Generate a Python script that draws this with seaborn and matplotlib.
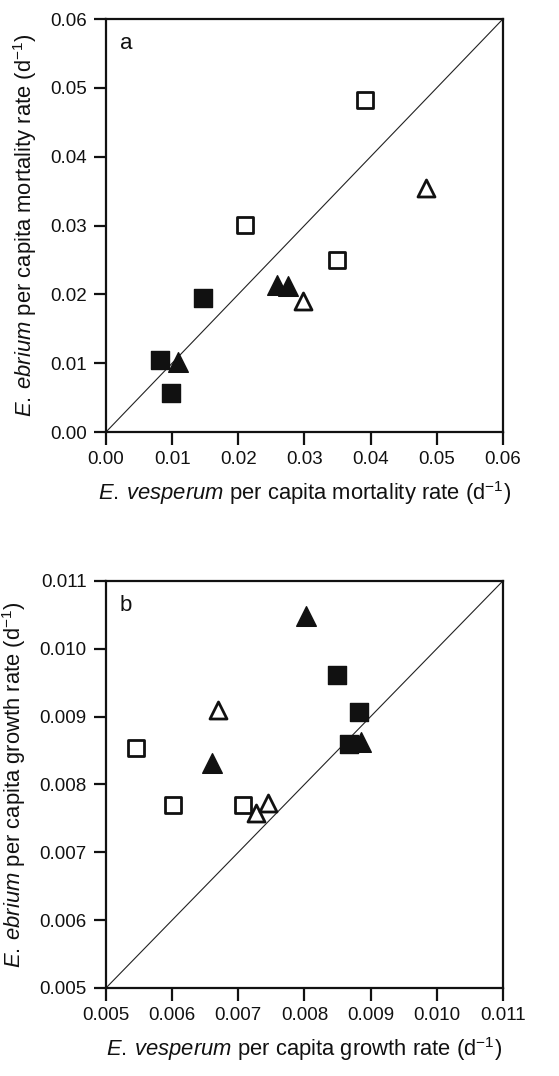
import matplotlib
matplotlib.use('Agg')
import matplotlib.pyplot as plt
import seaborn as sns
import pandas as pd

# panel a: per capita mortality rates
mort_fill_sq_x = [0.0082, 0.0099, 0.0147]
mort_fill_sq_y = [0.0104, 0.0057, 0.0194]
mort_fill_tri_x = [0.0109, 0.0258, 0.0275]
mort_fill_tri_y = [0.0102, 0.0214, 0.0212]
mort_open_sq_x = [0.0210, 0.0391, 0.0349]
mort_open_sq_y = [0.0301, 0.0483, 0.0250]
mort_open_tri_x = [0.0298, 0.0484]
mort_open_tri_y = [0.0190, 0.0355]

# panel b: per capita growth rates
grow_fill_sq_x = [0.00849, 0.00882, 0.00868]
grow_fill_sq_y = [0.00962, 0.00907, 0.00859]
grow_fill_tri_x = [0.00803, 0.00660, 0.00886]
grow_fill_tri_y = [0.01048, 0.00832, 0.00863]
grow_open_sq_x = [0.00545, 0.00602, 0.00707]
grow_open_sq_y = [0.00854, 0.00769, 0.00770]
grow_open_tri_x = [0.00670, 0.00727, 0.00745]
grow_open_tri_y = [0.00910, 0.00758, 0.00772]

mort_ticks = [0.00, 0.01, 0.02, 0.03, 0.04, 0.05, 0.06]
mort_labels = ['0.00', '0.01', '0.02', '0.03', '0.04', '0.05', '0.06']
grow_ticks = [0.005, 0.006, 0.007, 0.008, 0.009, 0.010, 0.011]
grow_labels = ['0.005', '0.006', '0.007', '0.008', '0.009', '0.010', '0.011']

sns.set_style('ticks')
plt.rcParams['font.family'] = ['Liberation Sans', 'DejaVu Sans']
plt.rcParams['mathtext.fontset'] = 'custom'
plt.rcParams['mathtext.rm'] = 'Liberation Sans'
plt.rcParams['mathtext.it'] = 'Liberation Sans:italic'
plt.rcParams['mathtext.default'] = 'regular'


def make_frame(fsx, fsy, ftx, fty, osx, osy, otx, oty):
    rows = []
    for name, xs, ys in [('fsq', fsx, fsy), ('ftri', ftx, fty),
                         ('osq', osx, osy), ('otri', otx, oty)]:
        for x, y in zip(xs, ys):
            rows.append({'x': x, 'y': y, 'grp': name})
    return pd.DataFrame(rows)


styles = {
    'fsq': dict(marker='s', s=150, color='#111111', edgecolor='#111111', linewidth=1.0),
    'ftri': dict(marker='^', s=200, color='#111111', edgecolor='#111111', linewidth=1.0),
    'osq': dict(marker='s', s=120, color='white', edgecolor='#111111', linewidth=2.0),
    'otri': dict(marker='^', s=150, color='white', edgecolor='#111111', linewidth=2.0),
}


def draw(ax, df, lo, hi, ticks, labels, letter, xlab, ylab):
    ax.plot([lo, hi], [lo, hi], color='#222222', lw=0.8, zorder=1)
    for g in ['fsq', 'ftri', 'osq', 'otri']:
        sub = df[df['grp'] == g]
        sns.scatterplot(data=sub, x='x', y='y', ax=ax, zorder=3, legend=False, **styles[g])
    ax.set_xlim(lo, hi)
    ax.set_ylim(lo, hi)
    ax.set_xticks(ticks)
    ax.set_xticklabels(labels)
    ax.set_yticks(ticks)
    ax.set_yticklabels(labels)
    ax.tick_params(direction='out', length=9, width=1.6, labelsize=13.5, pad=5,
                   colors='#111111')
    for sp in ax.spines.values():
        sp.set_linewidth(1.6)
        sp.set_color('#111111')
        sp.set_visible(True)
    ax.set_xlabel(xlab, fontsize=15.8, labelpad=8, color='#111111')
    ax.set_ylabel(ylab, fontsize=15.8, labelpad=8, color='#111111')
    ax.text(0.05, 0.94, letter, transform=ax.transAxes, fontsize=16,
            ha='center', va='center', color='#111111')


fig = plt.figure(figsize=(5.59, 10.76), dpi=100)
ax1 = fig.add_axes([0.1896, 0.5985, 0.710, 0.3838])
ax2 = fig.add_axes([0.1896, 0.0818, 0.710, 0.3783])

df_a = make_frame(mort_fill_sq_x, mort_fill_sq_y, mort_fill_tri_x, mort_fill_tri_y,
                  mort_open_sq_x, mort_open_sq_y, mort_open_tri_x, mort_open_tri_y)
df_b = make_frame(grow_fill_sq_x, grow_fill_sq_y, grow_fill_tri_x, grow_fill_tri_y,
                  grow_open_sq_x, grow_open_sq_y, grow_open_tri_x, grow_open_tri_y)

draw(ax1, df_a, 0.0, 0.06, mort_ticks, mort_labels, 'a',
     r'$\mathit{E.}\:\mathit{vesperum}$ per capita mortality rate (d$^{-1}$)',
     r'$\mathit{E.}\:\mathit{ebrium}$ per capita mortality rate (d$^{-1}$)')
draw(ax2, df_b, 0.005, 0.011, grow_ticks, grow_labels, 'b',
     r'$\mathit{E.}\:\mathit{vesperum}$ per capita growth rate (d$^{-1}$)',
     r'$\mathit{E.}\:\mathit{ebrium}$ per capita growth rate (d$^{-1}$)')

fig.savefig('out.png', dpi=100)
